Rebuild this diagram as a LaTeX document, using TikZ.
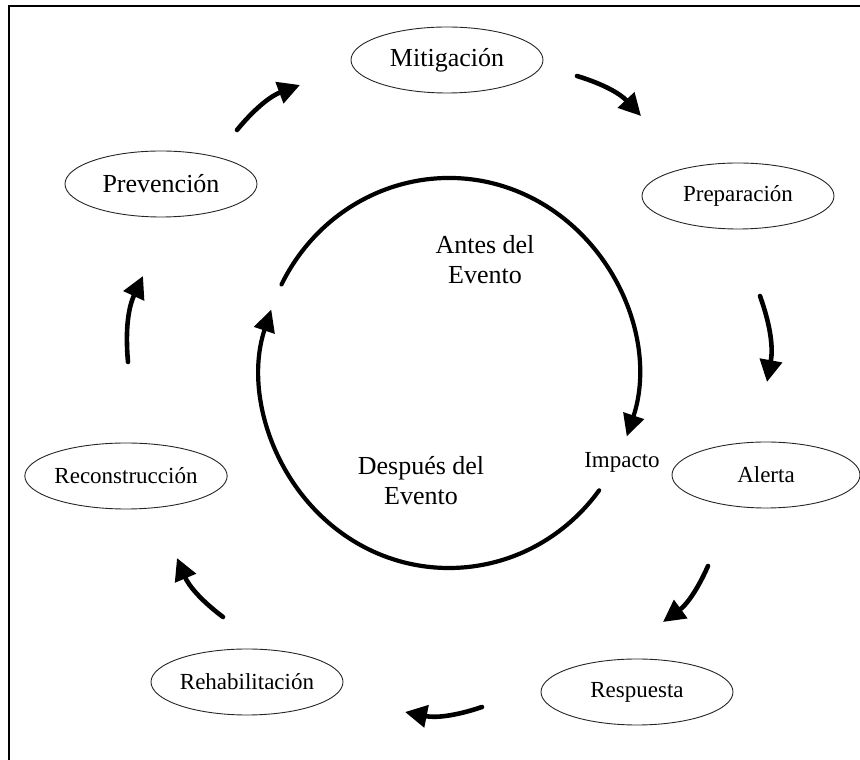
\documentclass[tikz,border=0pt]{standalone}
\usepackage{fontspec}
\setmainfont{Liberation Serif}
\usetikzlibrary{shapes.geometric,arrows.meta}
\begin{document}
\begin{tikzpicture}[x=1pt,y=1pt,
  stage/.style={ellipse, draw=black!85, line width=0.9pt, minimum width=192pt, minimum height=66pt, inner sep=0pt},
  bigtxt/.style={font=\fontsize{26}{30}\selectfont},
  smalltxt/.style={font=\fontsize{23}{27}\selectfont},
  flow/.style={line width=4.6pt, line cap=round, -{Triangle[length=22pt,width=22pt]}, bend left=15},
  ring/.style={line width=4.2pt, line cap=round, -{Triangle[length=22pt,width=21pt]}}]
\useasboundingbox (0,0) rectangle (860,760);
\draw[line width=1.5pt] (9,0) -- (9,754) -- (860,754);

% stages
\node[stage, bigtxt]   (mit) at (447,700) {Mitigación};
\node[stage, smalltxt] (pre) at (738,564) {Preparación};
\node[stage, smalltxt, minimum width=188pt] (ale) at (766,285) {Alerta};
\node[stage, smalltxt] (res) at (637,68)  {Respuesta};
\node[stage, smalltxt] (reh) at (247,78)  {Rehabilitación};
\node[stage, smalltxt] (rec) at (126,284) {Reconstrucción};
\node[stage, bigtxt]   (prv) at (161,576) {Prevención};

% inner texts
\node[bigtxt, align=center] (antes) at (485,500) {Antes del\\Evento};
\node[bigtxt, align=center] (desp) at (421,279) {Después del\\Evento};
\node[smalltxt] (imp) at (622,298) {Impacto};

% ring arcs
\draw[ring] (449,387) ++(153:188 and 195) arc[start angle=153, end angle=-19, x radius=188, y radius=195];
\draw[ring] (449,387) ++(-37:188 and 195) arc[start angle=-37, end angle=-199, x radius=188, y radius=195];

% outer arrow end points
\coordinate (a1s) at (237,630); \coordinate (a1t) at (300,675);
\coordinate (a2s) at (577,684); \coordinate (a2t) at (641,644);
\coordinate (a3s) at (760,464); \coordinate (a3t) at (767,378);
\coordinate (a4s) at (708,194); \coordinate (a4t) at (663,138);
\coordinate (a5s) at (482,53);  \coordinate (a5t) at (405,48);
\coordinate (a6s) at (223,143); \coordinate (a6t) at (177,202);
\coordinate (a7s) at (128,398); \coordinate (a7t) at (143,484);

\draw[flow] (a1s) to (a1t);
\draw[flow] (a2s) to (a2t);
\draw[flow] (a3s) to (a3t);
\draw[flow] (a4s) to (a4t);
\draw[flow] (a5s) to (a5t);
\draw[flow] (a6s) to (a6t);
\draw[flow] (a7s) to (a7t);
\end{tikzpicture}
\end{document}
